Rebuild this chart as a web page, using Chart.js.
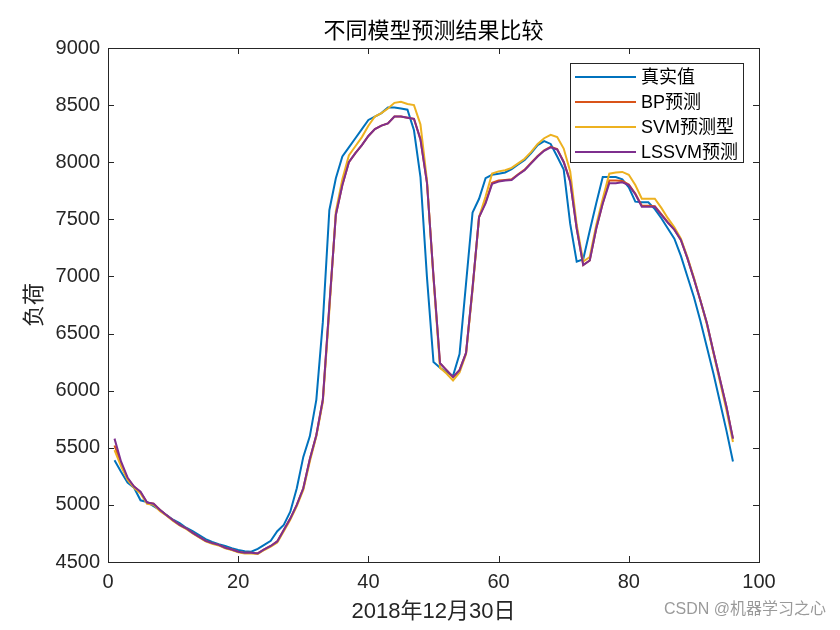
<!DOCTYPE html>
<html>
<head>
<meta charset="utf-8">
<script src="https://cdn.jsdelivr.net/npm/chart.js@4.4.1/dist/chart.umd.min.js"></script>
<style>
  body { margin: 0; background: #fff; }
  canvas { display: block; }
</style>
</head>
<body>
<canvas id="myChart" width="840" height="630"></canvas>
<script>
// 数据 (96 个时刻)
const trueLoad = [5390, 5290, 5195, 5150, 5040, 5025, 4990, 4955, 4910, 4870,
  4840, 4800, 4770, 4735, 4700, 4675, 4655, 4640, 4620, 4605,
  4595, 4590, 4615, 4650, 4685, 4770, 4825, 4940, 5145, 5420,
  5600, 5920, 6600, 7580, 7860, 8050, 8130, 8210, 8290, 8370,
  8400, 8430, 8480, 8480, 8470, 8460, 8280, 7870, 6990, 6250,
  6200, 6160, 6130, 6320, 6940, 7560, 7680, 7860, 7890, 7900,
  7910, 7940, 7980, 8020, 8080, 8150, 8185, 8160, 8050, 7935,
  7460, 7130, 7150, 7400, 7640, 7870, 7870, 7870, 7850, 7780,
  7655, 7650, 7650, 7590, 7510, 7420, 7330, 7180, 7000, 6820,
  6610, 6380, 6150, 5900, 5650, 5380]

const bpPred = [5520, 5360, 5230, 5160, 5110, 5020, 5010, 4955, 4910, 4865,
  4825, 4795, 4755, 4720, 4685, 4665, 4650, 4625, 4610, 4590,
  4580, 4580, 4575, 4610, 4640, 4680, 4780, 4880, 5000, 5145,
  5400, 5610, 5920, 6740, 7540, 7800, 8000, 8080, 8150, 8230,
  8290, 8320, 8340, 8400, 8400, 8390, 8380, 8200, 7820, 7000,
  6240, 6180, 6120, 6180, 6330, 6900, 7520, 7650, 7820, 7840,
  7845, 7850, 7895, 7935, 7995, 8055, 8105, 8135, 8115, 8005,
  7835, 7420, 7100, 7140, 7420, 7640, 7840, 7840, 7835, 7805,
  7725, 7620, 7620, 7615, 7545, 7475, 7410, 7320, 7160, 6980,
  6790, 6590, 6340, 6100, 5860, 5580]

const svmPred = [5480, 5340, 5220, 5150, 5100, 5010, 5000, 4945, 4905, 4860,
  4820, 4790, 4750, 4715, 4680, 4660, 4645, 4620, 4605, 4585,
  4575, 4575, 4570, 4605, 4635, 4670, 4770, 4870, 4990, 5130,
  5380, 5600, 5900, 6700, 7570, 7850, 8060, 8140, 8220, 8320,
  8400, 8430, 8470, 8520, 8530, 8510, 8500, 8330, 7840, 6980,
  6200, 6150, 6090, 6160, 6320, 6880, 7520, 7700, 7900, 7920,
  7930, 7950, 7990, 8030, 8090, 8160, 8210, 8240, 8220, 8120,
  7920, 7450, 7130, 7170, 7450, 7680, 7900, 7910, 7915, 7890,
  7800, 7680, 7680, 7680, 7600, 7510, 7430, 7330, 7170, 6990,
  6790, 6580, 6330, 6080, 5830, 5550]

const lssvmPred = [5580, 5380, 5240, 5160, 5115, 5020, 5010, 4955, 4910, 4865,
  4825, 4795, 4755, 4720, 4685, 4665, 4650, 4625, 4610, 4590,
  4580, 4580, 4575, 4610, 4640, 4680, 4780, 4880, 5000, 5145,
  5400, 5610, 5920, 6740, 7540, 7800, 8000, 8080, 8150, 8230,
  8290, 8320, 8340, 8400, 8400, 8390, 8380, 8200, 7820, 7000,
  6240, 6180, 6120, 6180, 6330, 6900, 7520, 7640, 7810, 7830,
  7840, 7845, 7890, 7930, 7990, 8050, 8100, 8130, 8110, 8000,
  7830, 7420, 7100, 7140, 7420, 7640, 7815, 7815, 7825, 7800,
  7720, 7610, 7610, 7610, 7540, 7470, 7410, 7320, 7160, 6980,
  6790, 6590, 6340, 6100, 5860, 5580]

const seriesNames = ['真实值', 'BP预测', 'SVM预测型', 'LSSVM预测']
const seriesColors = ['#0072BD', '#D95319', '#EDB120', '#7E2F8E']
const xTicks = [0, 20, 40, 60, 80, 100]
const yTicks = [4500, 5000, 5500, 6000, 6500, 7000, 7500, 8000, 8500, 9000]
const chartTitle = '不同模型预测结果比较'

const axisColor = '#262626'
const tickFont = '"Liberation Sans", Arial, sans-serif'
const cjkFont = '"Liberation Sans", "Noto Sans CJK SC", sans-serif'

// 时刻序号 1..96
const timeIndex = trueLoad.map((_, i) => i + 1)

function toPoints(values) {
    return values.map((v, i) => ({ x: timeIndex[i], y: v }))
}

// 标题、边框、向内的刻度、图例、水印
const matlabBox = {
    id: 'matlabBox',
    afterDatasetsDraw(chart) {
        const { ctx, chartArea: a, scales: { x, y } } = chart
        const len = 6
        ctx.save()

        // 标题 (居中于绘图区)
        ctx.font = '22px ' + cjkFont
        ctx.fillStyle = '#000'
        ctx.textAlign = 'center'
        ctx.textBaseline = 'middle'
        ctx.fillText(chartTitle, (a.left + a.right) / 2, 32)

        ctx.strokeStyle = axisColor
        ctx.lineWidth = 1
        ctx.strokeRect(Math.round(a.left) + 0.5, Math.round(a.top) + 0.5,
            Math.round(a.right - a.left), Math.round(a.bottom - a.top))

        ctx.beginPath()
        xTicks.forEach(t => {
            const px = Math.round(x.getPixelForValue(t)) + 0.5
            ctx.moveTo(px, a.bottom); ctx.lineTo(px, a.bottom - len)
            ctx.moveTo(px, a.top); ctx.lineTo(px, a.top + len)
        })
        yTicks.forEach(t => {
            const py = Math.round(y.getPixelForValue(t)) + 0.5
            ctx.moveTo(a.left, py); ctx.lineTo(a.left + len, py)
            ctx.moveTo(a.right, py); ctx.lineTo(a.right - len, py)
        })
        ctx.stroke()

        // 图例
        const bx = 570.5, by = 63.5, bw = 173, bh = 99
        ctx.fillStyle = '#fff'
        ctx.fillRect(bx, by, bw, bh)
        ctx.strokeStyle = '#262626'
        ctx.strokeRect(bx, by, bw, bh)
        ctx.font = '18px ' + cjkFont
        ctx.textBaseline = 'middle'
        ctx.textAlign = 'left'
        chart.data.datasets.forEach((ds, i) => {
            const ly = 77 + 25 * i
            ctx.strokeStyle = ds.borderColor
            ctx.lineWidth = 2
            ctx.beginPath()
            ctx.moveTo(575, ly); ctx.lineTo(636, ly)
            ctx.stroke()
            ctx.fillStyle = '#000'
            ctx.fillText(ds.label, 641, ly + 1)
        })

        // 水印
        ctx.font = '16px ' + cjkFont
        ctx.textAlign = 'right'
        ctx.fillStyle = 'rgba(120,120,120,0.75)'
        ctx.fillText('CSDN @机器学习之心', 826, 610)
        ctx.restore()
    }
}

const datasets = [trueLoad, bpPred, svmPred, lssvmPred].map((values, i) => ({
    label: seriesNames[i],
    data: toPoints(values),
    borderColor: seriesColors[i],
    backgroundColor: seriesColors[i],
    borderWidth: 2,
    pointRadius: 0,
    tension: 0,
    order: 4 - i
}))

new Chart(document.getElementById('myChart').getContext('2d'), {
    type: 'line',
    data: { datasets },
    options: {
        responsive: false,
        animation: false,
        layout: { padding: { top: 48, left: 0, right: 81, bottom: 0 } },
        plugins: {
            legend: { display: false },
            tooltip: { enabled: false },
            title: { display: false }
        },
        scales: {
            x: {
                type: 'linear',
                min: 0,
                max: 100,
                afterFit: s => { s.height = 68 },
                afterBuildTicks: s => { s.ticks = xTicks.map(v => ({ value: v })) },
                grid: { display: false, drawTicks: false },
                border: { display: false },
                ticks: {
                    color: axisColor,
                    padding: 8,
                    maxRotation: 0,
                    font: { family: tickFont, size: 20 },
                    callback: v => String(v)
                },
                title: {
                    display: true,
                    text: '2018年12月30日',
                    color: axisColor,
                    font: { family: cjkFont, size: 22 },
                    padding: { top: 0, bottom: 4.8 }
                }
            },
            y: {
                min: 4500,
                max: 9000,
                afterFit: s => { s.width = 108 },
                afterBuildTicks: s => { s.ticks = yTicks.map(v => ({ value: v })) },
                grid: { display: false, drawTicks: false },
                border: { display: false },
                ticks: {
                    color: axisColor,
                    padding: 8,
                    font: { family: tickFont, size: 20 },
                    callback: v => String(v)
                },
                title: {
                    display: true,
                    text: '负荷',
                    color: axisColor,
                    font: { family: cjkFont, size: 22 },
                    padding: { top: 22, bottom: 0 }
                }
            }
        }
    },
    plugins: [matlabBox]
})
</script>
</body>
</html>
